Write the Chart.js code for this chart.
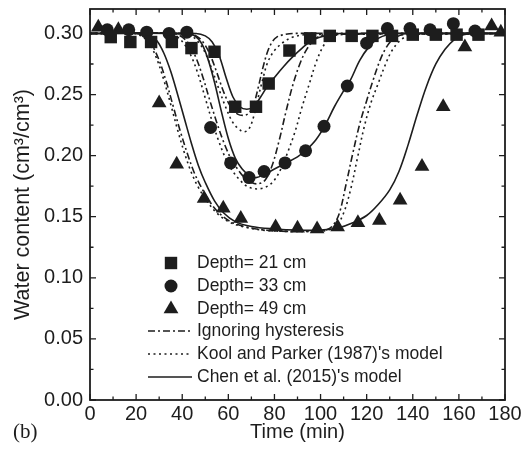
<!DOCTYPE html>
<html>
<head>
<meta charset="utf-8">
<script src="https://cdn.jsdelivr.net/npm/chart.js@4/dist/chart.umd.min.js"></script>
<style>
  html, body { margin: 0; padding: 0; background: #fff; }
  #wrap { width: 531px; height: 455px; }
</style>
</head>
<body>
<div id="wrap"><canvas id="chart" width="531" height="455"></canvas></div>
<script>
// measured data (symbols)
let sqTime = [9, 17.5, 26.5, 35.5, 44, 54, 63, 72, 77.5, 86.5, 95.5, 104, 113.5, 122.5, 131, 140, 150, 159, 168.5];
let sqTheta = [0.297, 0.293, 0.293, 0.293, 0.288, 0.285, 0.240, 0.240, 0.259, 0.286, 0.296, 0.298, 0.298, 0.298, 0.298, 0.299, 0.299, 0.299, 0.299];

let circTime = [7.5, 16.8, 24.6, 34.3, 42, 52.3, 61, 69, 75.5, 84.6, 93.5, 101.5, 111.6, 120, 129, 138.8, 147.5, 157.6, 167];
let circTheta = [0.303, 0.303, 0.301, 0.300, 0.301, 0.223, 0.194, 0.182, 0.187, 0.194, 0.204, 0.224, 0.257, 0.292, 0.304, 0.304, 0.303, 0.308, 0.302];

let triTime = [3.6, 12.3, 30, 37.6, 49.5, 57.8, 65.4, 80.5, 90, 98.5, 107.4, 116.2, 125.5, 134.5, 144, 153.2, 162.6, 174.2, 178.2];
let triTheta = [0.305, 0.303, 0.243, 0.193, 0.165, 0.157, 0.1485, 0.1415, 0.1405, 0.140, 0.1415, 0.145, 0.147, 0.1635, 0.191, 0.240, 0.289, 0.306, 0.301];

// Chen et al. (2015) - solid
let chen21Time = [0, 46, 50, 53, 56, 59, 62, 65, 68, 71, 74, 77, 80, 84, 88, 92, 96, 100, 104, 108, 180];
let chen21Theta = [0.300, 0.300, 0.298, 0.293, 0.282, 0.264, 0.248, 0.240, 0.238, 0.240, 0.248, 0.257, 0.264, 0.273, 0.281, 0.288, 0.294, 0.297, 0.299, 0.300, 0.300];
let chen33Time = [0, 44, 48, 51, 54, 57, 60, 63, 66, 69, 72, 76, 80, 85, 90, 94, 98, 102, 106, 110, 113, 117, 121, 125, 129, 134, 180];
let chen33Theta = [0.300, 0.299, 0.293, 0.280, 0.260, 0.236, 0.214, 0.198, 0.189, 0.184, 0.182, 0.185, 0.189, 0.194, 0.199, 0.205, 0.213, 0.225, 0.240, 0.253, 0.262, 0.278, 0.289, 0.296, 0.299, 0.300, 0.300];
let chen49Time = [0, 22, 26, 29, 32, 35, 38, 41, 44, 47, 50, 54, 58, 63, 70, 80, 90, 100, 108, 114, 120, 125, 130, 134, 138, 142, 146, 150, 154, 158, 162, 166, 180];
let chen49Theta = [0.300, 0.300, 0.298, 0.294, 0.284, 0.269, 0.250, 0.230, 0.210, 0.192, 0.178, 0.163, 0.153, 0.146, 0.142, 0.140, 0.139, 0.139, 0.141, 0.145, 0.151, 0.160, 0.172, 0.187, 0.209, 0.234, 0.257, 0.275, 0.287, 0.295, 0.299, 0.300, 0.300];

// Kool and Parker (1987) - dotted
let kool21Time = [0, 40, 44, 47, 50, 53, 56, 59, 62, 65, 67, 69, 71, 73, 75, 77, 80, 84, 88, 94, 180];
let kool21Theta = [0.300, 0.300, 0.298, 0.293, 0.284, 0.270, 0.254, 0.239, 0.227, 0.221, 0.2195, 0.222, 0.232, 0.248, 0.263, 0.276, 0.286, 0.293, 0.297, 0.299, 0.300];
let kool33Time = [0, 34, 38, 41, 44, 47, 50, 53, 56, 59, 62, 65, 68, 71, 74, 77, 80, 83, 86, 89, 92, 95, 98, 101, 104, 108, 180];
let kool33Theta = [0.300, 0.300, 0.297, 0.291, 0.281, 0.266, 0.247, 0.228, 0.211, 0.197, 0.187, 0.180, 0.175, 0.173, 0.173, 0.175, 0.180, 0.190, 0.204, 0.220, 0.240, 0.258, 0.276, 0.289, 0.296, 0.299, 0.300];
let kool49Time = [0, 19, 23, 26, 29, 32, 35, 38, 41, 44, 47, 51, 55, 60, 66, 75, 85, 95, 103, 107, 110, 113, 116, 119, 122, 125, 128, 131, 135, 140, 180];
let kool49Theta = [0.300, 0.300, 0.297, 0.291, 0.279, 0.262, 0.242, 0.221, 0.202, 0.186, 0.174, 0.162, 0.153, 0.146, 0.142, 0.139, 0.138, 0.138, 0.139, 0.143, 0.153, 0.172, 0.198, 0.224, 0.244, 0.259, 0.274, 0.286, 0.295, 0.299, 0.300];

// Ignoring hysteresis - dash-dot
let ign21Time = [0, 42, 46, 49, 52, 55, 58, 61, 64, 67, 69, 71, 73, 75, 77, 79, 81, 84, 88, 180];
let ign21Theta = [0.300, 0.300, 0.298, 0.293, 0.283, 0.268, 0.252, 0.240, 0.234, 0.233, 0.235, 0.242, 0.256, 0.272, 0.285, 0.293, 0.297, 0.299, 0.300, 0.300];
let ign33Time = [0, 36, 40, 43, 46, 49, 52, 55, 58, 61, 64, 67, 70, 73, 76, 79, 82, 85, 88, 91, 94, 98, 102, 180];
let ign33Theta = [0.300, 0.300, 0.297, 0.291, 0.280, 0.264, 0.245, 0.227, 0.211, 0.198, 0.189, 0.182, 0.178, 0.177, 0.180, 0.192, 0.212, 0.236, 0.258, 0.275, 0.287, 0.296, 0.299, 0.300];
let ign49Time = [0, 20, 24, 27, 30, 33, 36, 39, 42, 45, 48, 52, 56, 61, 67, 76, 86, 96, 102, 105, 108, 111, 114, 117, 120, 123, 126, 129, 132, 136, 180];
let ign49Theta = [0.300, 0.300, 0.297, 0.290, 0.278, 0.261, 0.241, 0.221, 0.203, 0.187, 0.175, 0.162, 0.153, 0.146, 0.142, 0.139, 0.138, 0.138, 0.139, 0.142, 0.152, 0.176, 0.202, 0.226, 0.245, 0.263, 0.279, 0.290, 0.296, 0.299, 0.300];

let xTicks = [0, 20, 40, 60, 80, 100, 120, 140, 160, 180];
let xMinor = [10, 30, 50, 70, 90, 110, 130, 150, 170];
let yTicks = [0, 0.05, 0.10, 0.15, 0.20, 0.25, 0.30];
let yMinor = [0.025, 0.075, 0.125, 0.175, 0.225, 0.275];

let legendLabels = ["Depth= 21 cm", "Depth= 33 cm", "Depth= 49 cm", "Ignoring hysteresis", "Kool and Parker (1987)'s model", "Chen et al. (2015)'s model"];

const INK = "#1d1d1d";
const SANS = "'Liberation Sans', Arial, sans-serif";
const DOT = [2, 3.5];
const DASHDOT = [7, 3, 2, 3];

function zip(xs, ys) {
  return xs.map((x, i) => ({ x: x, y: ys[i] }));
}

function symbols(xs, ys, style, radius) {
  return {
    data: zip(xs, ys),
    showLine: false,
    pointStyle: style,
    pointRadius: radius,
    pointHoverRadius: radius,
    pointBackgroundColor: INK,
    pointBorderWidth: 0,
    borderColor: INK
  };
}

function curve(xs, ys, dash) {
  return {
    data: zip(xs, ys),
    showLine: true,
    borderColor: INK,
    borderWidth: 1.6,
    borderDash: dash,
    pointRadius: 0,
    tension: 0.35,
    fill: false
  };
}

let datasets = [
  symbols(sqTime, sqTheta, "rect", 8.8),
  symbols(circTime, circTheta, "circle", 6.5),
  symbols(triTime, triTheta, "triangle", 8.5),
  curve(ign21Time, ign21Theta, DASHDOT),
  curve(ign33Time, ign33Theta, DASHDOT),
  curve(ign49Time, ign49Theta, DASHDOT),
  curve(kool21Time, kool21Theta, DOT),
  curve(kool33Time, kool33Theta, DOT),
  curve(kool49Time, kool49Theta, DOT),
  curve(chen21Time, chen21Theta, []),
  curve(chen33Time, chen33Theta, []),
  curve(chen49Time, chen49Theta, [])
];

function drawMarker(ctx, style, x, y) {
  ctx.beginPath();
  if (style === "rect") {
    ctx.rect(x - 6.2, y - 6.2, 12.4, 12.4);
  } else if (style === "circle") {
    ctx.arc(x, y, 6.5, 0, Math.PI * 2);
  } else {
    ctx.moveTo(x, y - 8.5);
    ctx.lineTo(x + 7.4, y + 4.25);
    ctx.lineTo(x - 7.4, y + 4.25);
    ctx.closePath();
  }
  ctx.fill();
}

// frame, inward ticks, legend and panel label
const decorations = {
  id: "decorations",
  afterDatasetsDraw(chart) {
    let ctx = chart.ctx;
    let a = chart.chartArea;
    let xs = chart.scales.x;
    let ys = chart.scales.y;
    ctx.save();
    ctx.strokeStyle = INK;
    ctx.lineWidth = 1.8;
    ctx.setLineDash([]);
    ctx.strokeRect(a.left, a.top, a.right - a.left, a.bottom - a.top);

    ctx.lineWidth = 1.3;
    function xTick(v, len) {
      let p = xs.getPixelForValue(v);
      ctx.beginPath();
      ctx.moveTo(p, a.bottom); ctx.lineTo(p, a.bottom - len);
      ctx.moveTo(p, a.top); ctx.lineTo(p, a.top + len);
      ctx.stroke();
    }
    function yTick(v, len) {
      let p = ys.getPixelForValue(v);
      ctx.beginPath();
      ctx.moveTo(a.left, p); ctx.lineTo(a.left + len, p);
      ctx.moveTo(a.right, p); ctx.lineTo(a.right - len, p);
      ctx.stroke();
    }
    xTicks.forEach(v => xTick(v, 6));
    xMinor.forEach(v => xTick(v, 3.5));
    yTicks.forEach(v => yTick(v, 6));
    yMinor.forEach(v => yTick(v, 3.5));

    // legend
    let rows = [263, 286, 309, 331, 354, 377];
    let styles = ["rect", "circle", "triangle"];
    let dashes = [DASHDOT, DOT, []];
    ctx.fillStyle = INK;
    for (let i = 0; i < 3; i++) {
      drawMarker(ctx, styles[i], 171, rows[i]);
    }
    ctx.lineWidth = 1.5;
    for (let i = 0; i < 3; i++) {
      ctx.setLineDash(dashes[i]);
      ctx.beginPath();
      ctx.moveTo(148, rows[i + 3]);
      ctx.lineTo(192, rows[i + 3]);
      ctx.stroke();
    }
    ctx.setLineDash([]);
    ctx.font = "17.5px " + SANS;
    ctx.textBaseline = "middle";
    ctx.textAlign = "left";
    legendLabels.forEach((t, i) => ctx.fillText(t, 197, rows[i]));

    // panel label
    ctx.font = "21px 'Liberation Serif', 'Times New Roman', serif";
    ctx.textBaseline = "alphabetic";
    ctx.fillText("(b)", 13, 438);
    ctx.restore();
  }
};

let ctx = document.getElementById("chart");

let chart = new Chart(ctx, {
  type: "scatter",
  data: { datasets: datasets },
  options: {
    responsive: false,
    animation: false,
    events: [],
    layout: { padding: { top: 9, right: 26, left: 0, bottom: 0 } },
    plugins: {
      legend: { display: false },
      tooltip: { enabled: false }
    },
    scales: {
      x: {
        type: "linear",
        min: 0,
        max: 180,
        afterBuildTicks: s => { s.ticks = xTicks.map(v => ({ value: v })); },
        afterFit: s => { s.height = 55; s.paddingLeft = 0; s.paddingRight = 0; },
        grid: { display: false, drawTicks: false },
        border: { display: false },
        ticks: {
          autoSkip: false,
          maxRotation: 0,
          padding: 2,
          color: INK,
          font: { family: SANS, size: 20 }
        },
        title: {
          display: true,
          text: "Time (min)",
          color: INK,
          font: { family: SANS, size: 20 },
          padding: { top: 0, bottom: 11 }
        }
      },
      y: {
        type: "linear",
        min: 0,
        max: 0.32,
        afterBuildTicks: s => { s.ticks = yTicks.map(v => ({ value: v })); },
        afterFit: s => { s.width = 90; s.paddingTop = 0; s.paddingBottom = 0; },
        grid: { display: false, drawTicks: false },
        border: { display: false },
        ticks: {
          padding: 7,
          color: INK,
          font: { family: SANS, size: 20 },
          callback: v => Number(v).toFixed(2)
        },
        title: {
          display: true,
          text: "Water content (cm³/cm³)",
          color: INK,
          font: { family: SANS, size: 21.5 },
          padding: { top: 10, bottom: 0 }
        }
      }
    }
  },
  plugins: [decorations]
});
</script>
</body>
</html>
